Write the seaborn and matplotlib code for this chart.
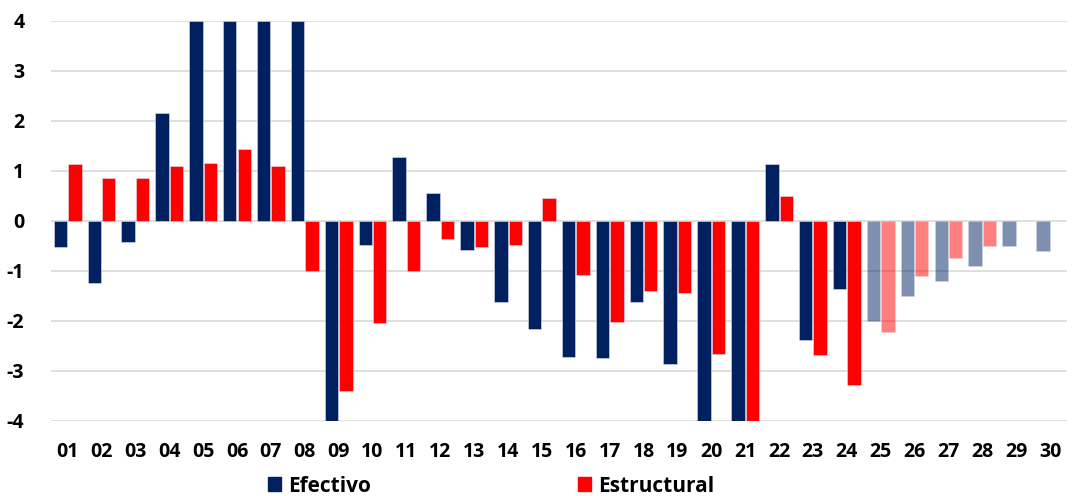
import numpy as np
import pandas as pd
import matplotlib
matplotlib.use("Agg")
import matplotlib.pyplot as plt
import seaborn as sns

# data (values beyond +/-4 are clipped in the original)
years = ["%02d" % i for i in range(1, 31)]
efectivo = [-0.53, -1.25, -0.43, 2.15, 4.0, 4.0, 4.0, 4.0, -4.0, -0.49,
            1.27, 0.55, -0.59, -1.63, -2.17, -2.72, -2.75, -1.63, -2.87, -4.0,
            -4.0, 1.13, -2.39, -1.37, -2.00, -1.50, -1.21, -0.90, -0.50, -0.60]
estructural = [1.13, 0.85, 0.85, 1.09, 1.15, 1.43, 1.09, -1.01, -3.41, -2.05,
               -1.00, -0.37, -0.52, -0.49, 0.46, -1.09, -2.03, -1.40, -1.45, -2.67,
               -4.0, 0.49, -2.69, -3.29, -2.22, -1.10, -0.74, -0.50, np.nan, np.nan]
first_projected = "25"

df = pd.DataFrame({"Año": years, "Efectivo": efectivo, "Estructural": estructural})
df_long = df.melt(id_vars="Año", var_name="Serie", value_name="Valor")

colors = {"Efectivo": "#002060", "Estructural": "#FF0000"}

plt.rcParams["font.family"] = ["Open Sans", "DejaVu Sans"]
plt.rcParams["font.weight"] = "bold"
plt.rcParams["axes.unicode_minus"] = False

fig = plt.figure(figsize=(10.76, 4.96), dpi=100)
ax = fig.add_axes([0.0471, 0.1518, 0.9445, 0.8065])

sns.barplot(data=df_long, x="Año", y="Valor", hue="Serie", order=years,
            hue_order=["Efectivo", "Estructural"], palette=colors, saturation=1,
            width=0.85, gap=0.07, edgecolor="#d9dde8", linewidth=0.4,
            errorbar=None, ax=ax, legend=False, zorder=3)

# projected years are drawn faded
start = years.index(first_projected)
for p in ax.patches:
    idx = int(round(p.get_x() + p.get_width() / 2))
    if idx >= start:
        p.set_alpha(0.5)

ax.set_ylim(-4, 4)
ax.set_xlim(-0.5, len(years) - 0.5)
ax.set_yticks(range(-4, 5))
ax.grid(axis="y", color="#D9D9D9", linewidth=1.2, zorder=0)
ax.set_axisbelow(True)
for s in ax.spines.values():
    s.set_visible(False)
ax.tick_params(axis="both", length=0, labelsize=14)
ax.tick_params(axis="y", pad=19)
ax.tick_params(axis="x", pad=15)
for lab in ax.get_xticklabels() + ax.get_yticklabels():
    lab.set_fontweight("bold")
ax.set_xlabel("")
ax.set_ylabel("")

handles = [plt.Rectangle((0, 0), 1, 1, color=colors[k]) for k in ["Efectivo", "Estructural"]]
fig.legend(handles, ["Efectivo", "Estructural"], loc="center",
           bbox_to_anchor=(491 / 1076, 10 / 496), ncol=2, frameon=False,
           handlelength=0.65, handleheight=0.65, handletextpad=0.35,
           columnspacing=9.9, prop={"size": 15, "weight": "bold"})

fig.savefig("out.png", dpi=100)
